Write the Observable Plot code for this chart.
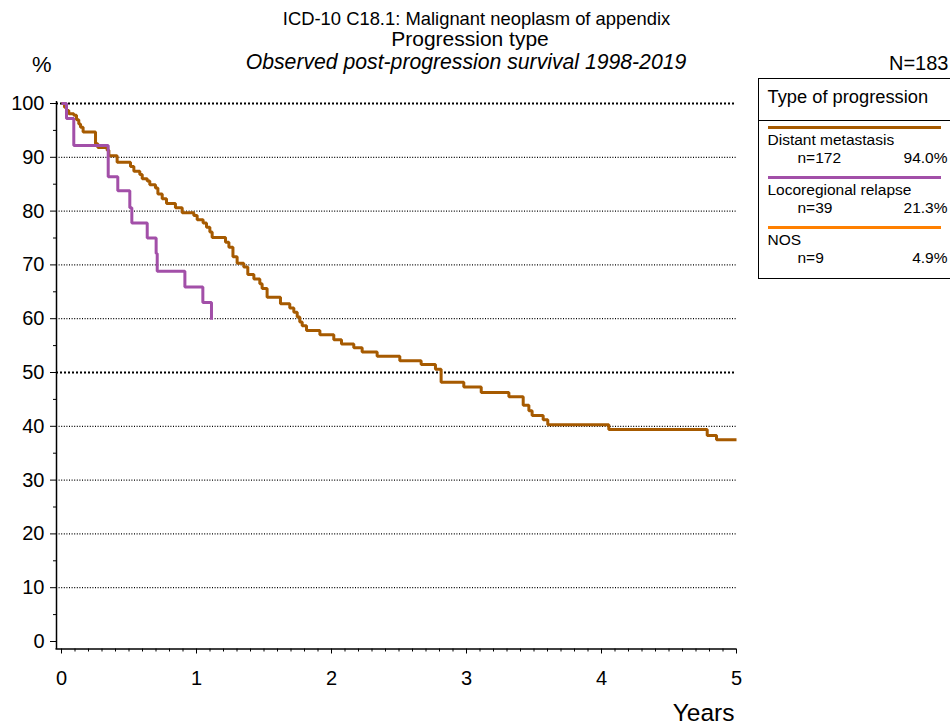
<!DOCTYPE html>
<html>
<head>
<meta charset="utf-8">
<script src="https://cdn.jsdelivr.net/npm/d3@7"></script>
<script src="https://cdn.jsdelivr.net/npm/@observablehq/plot@0.6"></script>
<style>
  html, body { margin: 0; padding: 0; background: #fff; width: 950px; height: 728px; overflow: hidden; }
  #wrap { position: relative; width: 950px; height: 728px; font-family: "Liberation Sans", Arial, sans-serif; color: #000; }
  #wrap svg { position: absolute; left: 0; top: 0; }
  .t { position: absolute; white-space: nowrap; }
  .c { transform: translateX(-50%); }
  #legend { position: absolute; left: 757.5px; top: 77.5px; width: 210px; height: 201px; border: 1.5px solid #000; box-sizing: border-box; background: #fff; }
</style>
</head>
<body>
<div id="wrap"></div>
<script>
// ---- data ----
const titleLines = ["ICD-10 C18.1: Malignant neoplasm of appendix", "Progression type", "Observed post-progression survival 1998-2019"];
const totalN = "N=183";
const yLabel = "%";
const xLabel = "Years";
const xTicks = [0, 1, 2, 3, 4, 5];
const yTicks = [0, 10, 20, 30, 40, 50, 60, 70, 80, 90, 100];

const legendTitle = "Type of progression";
const groups = ["Distant metastasis", "Locoregional relapse", "NOS"];
const groupN = ["n=172", "n=39", "n=9"];
const groupPct = ["94.0%", "21.3%", "4.9%"];
const groupColors = ["#A65A00", "#A24FA8", "#FF8000"];

// Distant metastasis: time (years) and survival (%)
const dmTime = [0, 0.022, 0.037, 0.054, 0.091, 0.111, 0.128, 0.141, 0.160, 0.252, 0.269, 0.338, 0.351, 0.412,
  0.511, 0.536, 0.580, 0.598, 0.635, 0.654, 0.696, 0.714, 0.746, 0.778, 0.844, 0.894, 0.980, 1.005, 1.049,
  1.074, 1.099, 1.116, 1.215, 1.240, 1.270, 1.301, 1.350, 1.380, 1.425, 1.469, 1.486, 1.523, 1.622, 1.691,
  1.721, 1.746, 1.765, 1.783, 1.815, 1.914, 2.017, 2.074, 2.165, 2.227, 2.338, 2.506, 2.664, 2.770, 2.812,
  2.980, 3.109, 3.314, 3.420, 3.462, 3.486, 3.568, 3.602, 4.054, 4.783, 4.852, 5.0];
const dmSurv = [100, 99.3, 98.7, 98.1, 97.8, 97.0, 96.2, 95.6, 94.7, 92.5, 91.8, 91.3, 90.3, 89.1,
  88.3, 87.4, 86.8, 86.0, 85.6, 84.9, 84.3, 83.2, 82.3, 81.4, 80.6, 79.7, 79.2, 78.4, 77.8,
  77.0, 76.1, 75.1, 74.2, 73.3, 71.5, 70.3, 69.6, 68.2, 67.4, 66.5, 65.6, 64.0, 62.8, 62.0,
  61.2, 60.3, 59.4, 58.7, 57.8, 57.0, 56.1, 55.3, 54.6, 53.8, 53.0, 52.2, 51.5, 50.6, 48.2,
  47.3, 46.3, 45.5, 43.9, 42.9, 42.0, 41.2, 40.3, 39.4, 38.3, 37.5, 37.5];

// Locoregional relapse
const lrTime = [0, 0.037, 0.091, 0.346, 0.417, 0.506, 0.521, 0.635, 0.701, 0.709, 0.914, 1.047, 1.111];
const lrSurv = [100, 97.2, 92.2, 86.4, 83.8, 80.6, 77.8, 75.0, 72.1, 68.8, 65.9, 63.0, 59.8];

// ---- build ----
const series = [
  {name: groups[0], time: dmTime, surv: dmSurv},
  {name: groups[1], time: lrTime, surv: lrSurv}
];
const rows = series.flatMap(s => s.time.map((t, i) => ({group: s.name, t, s: s.surv[i]})));

const minorX = d3.range(1, 50).map(i => i / 10).filter(v => Math.abs(v - Math.round(v)) > 1e-9);
const minorY = d3.range(5, 100, 10);
const gridThin = yTicks.filter(v => v > 0 && v !== 50 && v !== 100);
const gridBold = [50, 100];

const chart = Plot.plot({
  width: 950,
  height: 728,
  marginLeft: 61,
  marginRight: 214,
  marginTop: 103,
  marginBottom: 87,
  style: {fontFamily: "'Liberation Sans', Arial, sans-serif", fontSize: "20px", background: "transparent", color: "#000"},
  x: {domain: [0, 5]},
  y: {domain: [0, 100]},
  color: {domain: groups, range: groupColors},
  marks: [
    Plot.ruleY(gridThin, {y: d => d, insetLeft: -5, stroke: "#000", strokeWidth: 1.2, strokeDasharray: "1,1.6"}),
    Plot.ruleY(gridBold, {y: d => d, insetLeft: -5, stroke: "#000", strokeWidth: 2, strokeDasharray: "2,2"}),
    Plot.ruleX([0], {dx: -5, insetTop: -2, insetBottom: -8, stroke: "#000", strokeWidth: 1.5}),
    Plot.ruleY([0], {dy: 7.5, insetLeft: -5.5, stroke: "#000", strokeWidth: 1.5}),
    Plot.axisY({ticks: yTicks, tickSize: 6, tickPadding: 6, dx: -5, label: null, fontSize: 20}),
    Plot.axisY({ticks: minorY, tickSize: 3, dx: -5, tickFormat: () => "", label: null}),
    Plot.axisX({ticks: xTicks, tickSize: 5, tickPadding: 17, dy: 7.5, label: null, fontSize: 20, tickFormat: d => String(d)}),
    Plot.axisX({ticks: minorX, tickSize: 3, dy: 7.5, tickFormat: () => "", label: null}),
    Plot.line(rows, {x: "t", y: "s", z: "group", stroke: "group", strokeWidth: 3, curve: "step-after", strokeLinejoin: "miter", strokeLinecap: "butt"})
  ]
});

const wrap = document.getElementById("wrap");
wrap.appendChild(chart);

// place a text so that its baseline lands at opts.baseline (Arial metrics)
function addText(txt, opts) {
  const d = document.createElement("div");
  d.className = "t" + (opts.center ? " c" : "");
  d.textContent = txt;
  const F = opts.size;
  const LH = opts.lh || F;
  d.style.fontSize = F + "px";
  d.style.lineHeight = LH + "px";
  d.style.top = (opts.baseline - ((LH - 1.117 * F) / 2 + 0.905 * F)) + "px";
  if (opts.left != null) d.style.left = opts.left + "px";
  if (opts.right != null) d.style.right = opts.right + "px";
  if (opts.italic) d.style.fontStyle = "italic";
  (opts.parent || wrap).appendChild(d);
  return d;
}

addText(titleLines[0], {size: 18.4, baseline: 25.5, left: 476.5, center: true});
addText(titleLines[1], {size: 21, baseline: 46, left: 470, center: true, lh: 20});
addText(titleLines[2], {size: 21.2, baseline: 69.5, left: 466, center: true, italic: true, lh: 20});
addText(yLabel, {size: 22, baseline: 72.5, left: 32});
addText(totalN, {size: 20, baseline: 70, right: 1.5});
addText(xLabel, {size: 24.5, baseline: 721.5, right: 950 - 734.5});

// legend
const leg = document.createElement("div");
leg.id = "legend";
wrap.appendChild(leg);
const L0 = 757.5 + 1.5, T0 = 77.5 + 1.5;
const sep = document.createElement("div");
sep.style.cssText = `position:absolute;left:0;right:0;top:${120.3 - T0}px;height:0;border-top:1.2px solid #000;`;
leg.appendChild(sep);
addText(legendTitle, {size: 18.3, baseline: 103.5 - T0, left: 768 - L0, parent: leg});
const FS = 15.5;
groups.forEach((g, i) => {
  const y0 = 128.3 + 50 * i;
  const ln = document.createElement("div");
  ln.style.cssText = `position:absolute;left:${768 - L0}px;width:${941 - 768}px;top:${y0 - 1.5 - T0}px;height:3px;background:${groupColors[i]};`;
  leg.appendChild(ln);
  addText(g, {size: FS, lh: 14, baseline: y0 + 18 - T0, left: 768 - L0, parent: leg});
  addText(groupN[i], {size: FS, lh: 14, baseline: y0 + 35.2 - T0, left: 798 - L0, parent: leg});
  const p = addText(groupPct[i], {size: FS, lh: 14, baseline: y0 + 35.2 - T0, parent: leg});
  p.style.right = (L0 + 207 - 941 - 6) + "px";
});
</script>
</body>
</html>
